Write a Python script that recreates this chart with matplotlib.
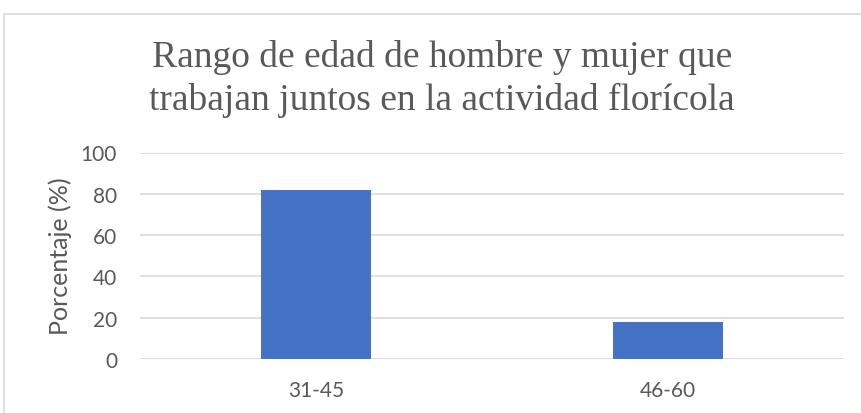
import matplotlib
matplotlib.use("Agg")
import matplotlib.pyplot as plt
from matplotlib.patches import Rectangle

# data
categorias = ["31-45", "46-60"]
porcentajes = [82, 18]
yticks = [0, 20, 40, 60, 80, 100]

gris = "#595959"
azul = "#4472C4"

fig = plt.figure(figsize=(8.62, 4.14), dpi=100)
ax = fig.add_axes([140/862, 1-360/414, (844-140)/862, (360-153.5)/414])

x = list(range(len(categorias)))
ax.bar(x, porcentajes, width=0.3125, color=azul, zorder=3)
ax.set_xlim(-0.5, 1.5)
ax.set_ylim(0, 100)
ax.set_yticks(yticks)
ax.set_xticks(x)
ax.set_xticklabels(categorias)
ax.grid(axis="y", color="#D9D9D9", linewidth=1.2, zorder=0)
for s in ax.spines.values():
    s.set_visible(False)
ax.tick_params(length=0, labelcolor=gris, labelsize=15)
ax.tick_params(axis="y", pad=16.5)
ax.tick_params(axis="x", pad=15)
for lab in ax.get_xticklabels() + ax.get_yticklabels():
    lab.set_fontfamily("Lato")

fig.text(60/862, 1-256/414, "Porcentaje (%)", rotation=90, ha="center", va="center",
         color=gris, fontsize=18, family="Lato")

fig.text(0.513, 0.81, "Rango de edad de hombre y mujer que\ntrabajan juntos en la actividad florícola",
         ha="center", va="center", family="Liberation Serif", fontsize=27,
         color=gris, linespacing=1.3)

# chart border
fig.patches.append(Rectangle((4.5/862, -0.01), 1.0, 1-14.5/414+0.01, transform=fig.transFigure,
                             fill=False, edgecolor="#D9D9D9", linewidth=1.2))

fig.savefig("out.png", dpi=100)
